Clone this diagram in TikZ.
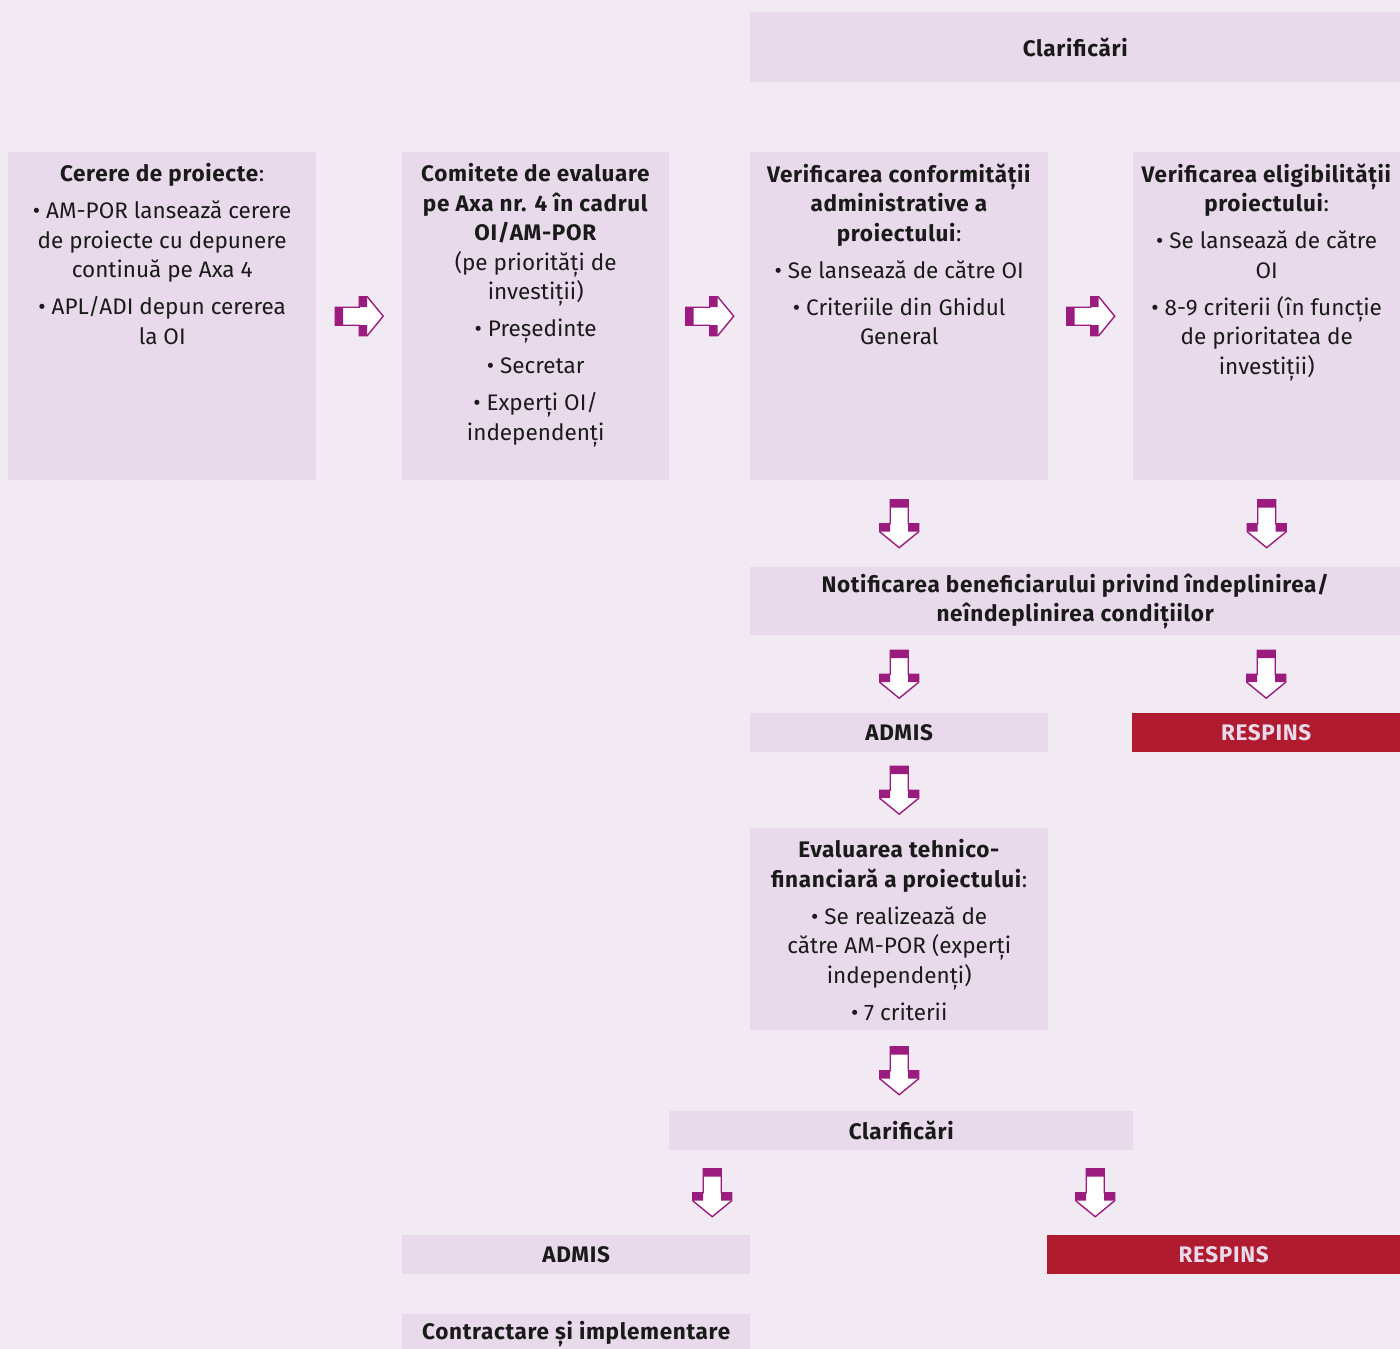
\documentclass[tikz,border=0pt]{standalone}
\usepackage{fontspec}
\setmainfont{Fira Sans}[BoldFeatures={LetterSpace=3}]
\usetikzlibrary{positioning,calc}

\definecolor{pagebg}{HTML}{F2EAF3}
\definecolor{boxbg}{HTML}{E8DAEA}
\definecolor{arrowpurple}{HTML}{9B1B7E}
\definecolor{rejectred}{HTML}{B01B2F}
\definecolor{ink}{HTML}{1A1A1A}

\tikzset{
  panel/.style={fill=boxbg, inner sep=0pt, anchor=north west},
  panel text/.style={align=center, font=\fontsize{22.5}{29.5}\selectfont, text=ink, inner sep=0pt, anchor=north},
  bar/.style={fill=boxbg, inner sep=0pt, anchor=north west, align=center,
    font=\fontsize{22.5}{29.5}\selectfont\bfseries, text=ink},
  reject/.style={bar, fill=rejectred, text=boxbg},
  pics/blockarrow/.style={code={
    \draw[arrowpurple, line width=1.4pt, fill=white, line join=miter]
      (-24,-9) -- (0,-9) -- (0,-19.5) -- (8,-19.5) -- (24,0) -- (8,19.5)
      -- (0,19.5) -- (0,9) -- (-24,9) -- cycle;
    \fill[arrowpurple] (-24,-9) rectangle (-16,9)
      (0,-19.5) rectangle (8,-9) (0,9) rectangle (8,19.5);
  }}
}

\begin{document}
\begin{tikzpicture}[x=1pt, y=-1pt]
  \useasboundingbox[fill=pagebg] (0,0) rectangle (1400,1349);

  % first row
  \node[bar, minimum width=650pt, minimum height=70pt] (clarA) at (750,12) {Clarificări};

  \node[panel, minimum width=308pt, minimum height=328pt] (cerere) at (8,152) {};
  \node[panel text, below=11.5pt of cerere.north] (cerere-t) {%
    \textbf{Cerere de proiecte}:\\[7.5pt]
    \textbullet\ AM-POR lansează cerere\\de proiecte cu depunere\\continuă pe Axa 4\\[7.5pt]
    \textbullet\ APL/ADI depun cererea\\la OI};

  \node[panel, minimum width=267pt, minimum height=328pt] (comitete) at (402,152) {};
  \node[panel text, below=11.5pt of comitete.north] (comitete-t) {%
    \textbf{Comitete de evaluare}\\\textbf{pe Axa nr. 4 în cadrul}\\\textbf{OI/AM-POR}\\
    (pe priorități de\\investiții)\\[7.5pt]
    \textbullet\ Președinte\\[7.5pt]
    \textbullet\ Secretar\\[7.5pt]
    \textbullet\ Experți OI/\\independenți};

  \node[panel, minimum width=298pt, minimum height=328pt] (conform) at (750,152) {};
  \node[panel text, below=11.5pt of conform.north] (conform-t) {%
    \textbf{Verificarea conformității}\\\textbf{administrative a}\\\textbf{proiectului}:\\[7.5pt]
    \textbullet\ Se lansează de către OI\\[7.5pt]
    \textbullet\ Criteriile din Ghidul\\General};

  \node[panel, minimum width=267pt, minimum height=328pt] (elig) at (1133,152) {};
  \node[panel text, below=11.5pt of elig.north] (elig-t) {%
    \textbf{Verificarea eligibilității}\\\textbf{proiectului}:\\[7.5pt]
    \textbullet\ Se lansează de către\\OI\\[7.5pt]
    \textbullet\ 8-9 criterii (în funcție\\de prioritatea de\\investiții)};

  \pic at ($(cerere.east)!0.5!(comitete.west)$) {blockarrow};
  \pic at ($(comitete.east)!0.5!(conform.west)$) {blockarrow};
  \pic at ($(conform.east)!0.5!(elig.west)$) {blockarrow};

  % notification and results
  \node[bar, minimum width=650pt, minimum height=68pt] (notif) at (750,567)
    {Notificarea beneficiarului privind îndeplinirea/\\neîndeplinirea condițiilor};
  \pic[rotate=-90] at ($(conform.south)!0.5!(conform.south |- notif.north)$) {blockarrow};
  \pic[rotate=-90] at ($(elig.south)!0.5!(elig.south |- notif.north)$) {blockarrow};

  \node[bar, minimum width=298pt, minimum height=39pt] (admisA) at (750,713) {ADMIS};
  \node[reject, minimum width=268pt, minimum height=39pt] (respinsA) at (1132,713) {RESPINS};
  \pic[rotate=-90] at ($(admisA.north)!0.5!(admisA.north |- notif.south)$) {blockarrow};
  \pic[rotate=-90] at ($(respinsA.north)!0.5!(respinsA.north |- notif.south)$) {blockarrow};

  % technical and financial evaluation
  \node[panel, minimum width=298pt, minimum height=202pt] (evaluare) at (750,828) {};
  \node[panel text, below=11.5pt of evaluare.north] (evaluare-t) {%
    \textbf{Evaluarea tehnico-}\\\textbf{financiară a proiectului}:\\[7.5pt]
    \textbullet\ Se realizează de\\către AM-POR (experți\\independenți)\\[7.5pt]
    \textbullet\ 7 criterii};
  \pic[rotate=-90] at ($(admisA.south)!0.5!(evaluare.north)$) {blockarrow};

  \node[bar, minimum width=464pt, minimum height=39pt] (clarB) at (669,1111) {Clarificări};
  \pic[rotate=-90] at ($(evaluare.south)!0.5!(evaluare.south |- clarB.north)$) {blockarrow};

  \node[bar, minimum width=348pt, minimum height=39pt] (admisB) at (402,1235) {ADMIS};
  \node[reject, minimum width=353pt, minimum height=39pt] (respinsB) at (1047,1235) {RESPINS};
  \coordinate (splitB) at ($(clarB.south)!0.5!(clarB.south |- admisB.north)$);
  \pic[rotate=-90] at ([xshift=-189pt]splitB) {blockarrow};
  \pic[rotate=-90] at ([xshift=194pt]splitB) {blockarrow};

  \node[bar, minimum width=348pt, minimum height=40pt] (contract) at (402,1314) {Contractare și implementare};
\end{tikzpicture}
\end{document}
